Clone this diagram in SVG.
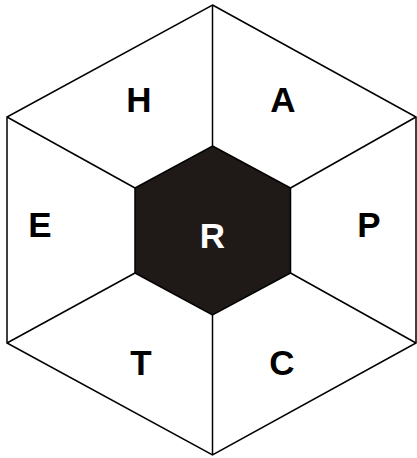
<svg xmlns="http://www.w3.org/2000/svg" width="417" height="458" viewBox="0 0 417 458">
<style>
.ln{stroke:#000;stroke-width:1.5;fill:none;stroke-linejoin:miter}
.t{font-family:"Liberation Sans",Arial,sans-serif;font-weight:bold;font-size:35px;text-anchor:middle;fill:#000}
</style>
<rect width="417" height="458" fill="#fff"/>
<g id="connectors">
<line class="ln" x1="212.5" y1="5" x2="212.5" y2="146"/>
<line class="ln" x1="416" y1="117" x2="290.5" y2="188"/>
<line class="ln" x1="416" y1="343" x2="290.5" y2="273"/>
<line class="ln" x1="212.5" y1="455" x2="212.5" y2="315"/>
<line class="ln" x1="7" y1="343" x2="135" y2="273"/>
<line class="ln" x1="7" y1="117" x2="135" y2="188"/>
</g>
<g id="outer">
<polygon class="ln" points="212.5,5 416,117 416,343 212.5,455 7,343 7,117"/>
</g>
<g id="node-R">
<polygon points="212.5,146 290.5,188 290.5,273 212.5,315 135,273 135,188" fill="#1f1a17" stroke="#000" stroke-width="1.5"/>
<text class="t" x="212.5" y="247.5" style="fill:#fff">R</text>
</g>
<g id="node-H"><text class="t" x="139" y="111.5">H</text></g>
<g id="node-A"><text class="t" x="283" y="111.5">A</text></g>
<g id="node-E"><text class="t" x="40" y="236.5">E</text></g>
<g id="node-P"><text class="t" x="369" y="236.5">P</text></g>
<g id="node-T"><text class="t" x="141" y="375">T</text></g>
<g id="node-C"><text class="t" x="282" y="375">C</text></g>
</svg>
